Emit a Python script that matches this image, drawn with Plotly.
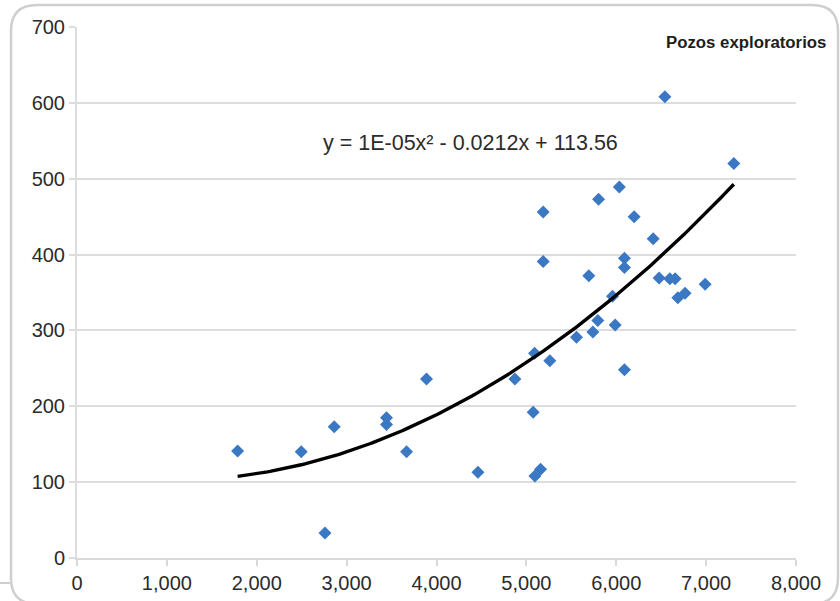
import numpy as np
import plotly.graph_objects as go

# Data: Pozos exploratorios (x = depth, y = value)
x_vals = [1787, 2495, 2862, 2759, 3444, 3444, 3667, 3889, 4461, 4872,
          5076, 5091, 5095, 5158, 5261, 5187, 5187, 5558, 5695, 5740,
          5795, 5803, 5958, 5988, 6034, 6091, 6091, 6091, 6199, 6411,
          6477, 6596, 6655, 6685, 6766, 6989, 6541, 7308]
y_vals = [141, 140, 173, 33, 185, 176, 140, 236, 113, 236,
          192, 270, 108, 117, 260, 456, 391, 291, 372, 298,
          313, 473, 345, 307, 489, 395, 383, 248, 450, 421,
          369, 368, 368, 343, 349, 361, 608, 520]

# Trendline coefficients as printed on the chart (a*x^2 + b*x + c)
trend_coeffs = [1e-05, -0.0212, 113.56]
trend_label = "y = 1E-05x² - 0.0212x + 113.56"
series_name = "Pozos exploratorios"

x_ticks = [0, 1000, 2000, 3000, 4000, 5000, 6000, 7000, 8000]
x_tick_text = ["0", "1,000", "2,000", "3,000", "4,000", "5,000", "6,000", "7,000", "8,000"]
y_ticks = [0, 100, 200, 300, 400, 500, 600, 700]

tx = np.linspace(min(x_vals), max(x_vals), 200)
ty = np.polyval(trend_coeffs, tx)

W, H = 840, 601
L, R, T, B = 77, 44, 27, 43
pw, ph = W - L - R, H - T - B

def px(x):
    return (x - L) / pw

def py(y):
    return (H - B - y) / ph

fig = go.Figure()
fig.add_trace(go.Scatter(x=x_vals, y=y_vals, mode="markers",
                         marker=dict(symbol="diamond", size=10, color="#3b78c3"),
                         name=series_name, showlegend=False))
fig.add_trace(go.Scatter(x=tx, y=ty, mode="lines",
                         line=dict(color="black", width=3.4),
                         showlegend=False))

# rounded frame
x0, x1, y0, y1, r = 11, 838, 5, 604, 26
path = (f"M {px(x0+r)},{py(y0)} L {px(x1-r)},{py(y0)} Q {px(x1)},{py(y0)} {px(x1)},{py(y0+r)} "
        f"L {px(x1)},{py(y1-r)} Q {px(x1)},{py(y1)} {px(x1-r)},{py(y1)} "
        f"L {px(x0+r)},{py(y1)} Q {px(x0)},{py(y1)} {px(x0)},{py(y1-r)} "
        f"L {px(x0)},{py(y0+r)} Q {px(x0)},{py(y0)} {px(x0+r)},{py(y0)} Z")
shapes = [
    dict(type="path", xref="paper", yref="paper", path=path,
         line=dict(color="#cfcfcf", width=2.5), layer="below"),
    dict(type="line", xref="paper", yref="paper", x0=px(0), x1=px(10), y0=py(583), y1=py(583),
         line=dict(color="#cfcfcf", width=2)),
]

font = "Liberation Sans, Arial, sans-serif"
fig.update_layout(
    width=W, height=H,
    margin=dict(l=L, r=R, t=T, b=B, autoexpand=False),
    paper_bgcolor="white", plot_bgcolor="white",
    font=dict(family=font, size=20, color="#2b2b2b"),
    shapes=shapes,
    xaxis=dict(range=[0, 8000], tickvals=x_ticks, ticktext=x_tick_text, automargin=False,
               showgrid=False, zeroline=False, showline=True, linecolor="#d9d9d9", linewidth=2,
               ticks="outside", ticklen=6, tickcolor="#d9d9d9", tickwidth=2,
               tickfont=dict(size=20, color="#2b2b2b")),
    yaxis=dict(range=[0, 700], tickvals=y_ticks, automargin=False,
               showgrid=True, gridcolor="#dddddd", gridwidth=2, zeroline=False,
               showline=True, linecolor="#dddddd", linewidth=2,
               ticks="outside", ticklen=6, tickcolor="#dddddd", tickwidth=2,
               tickfont=dict(size=20, color="#2b2b2b")),
    annotations=[
        dict(text=trend_label, xref="paper", yref="paper", x=px(321), y=py(143),
             xanchor="left", yanchor="middle", showarrow=False,
             font=dict(size=21.5, color="#2b2b2b", family=font)),
        dict(text=f"<b>{series_name}</b>", xref="paper", yref="paper", x=px(828), y=py(43),
             xanchor="right", yanchor="middle", showarrow=False,
             font=dict(size=16.8, color="#1e1e1e", family=font)),
    ],
)

fig.write_html("out.html", config={"displayModeBar": False},
               post_script="document.body.style.margin='0';document.body.style.overflow='hidden';")
